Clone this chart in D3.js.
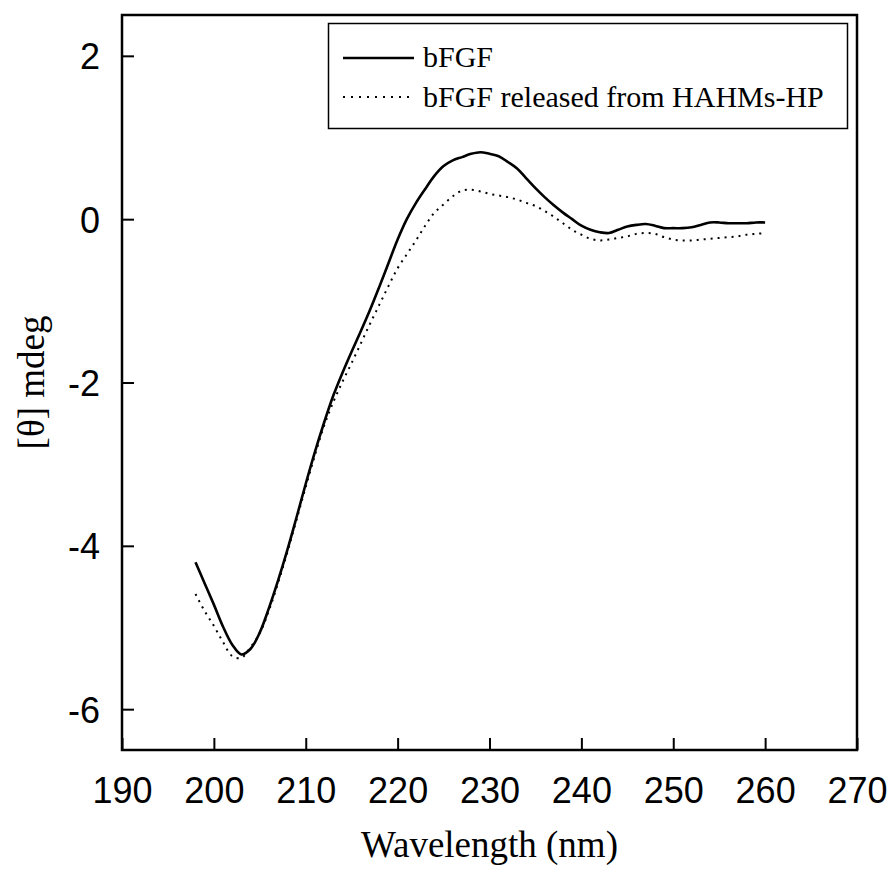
<!DOCTYPE html>
<html><head><meta charset="utf-8">
<script src="https://cdn.jsdelivr.net/npm/d3@7"></script>
<style>body{margin:0;background:#fff}</style>
</head><body><svg id="c" width="895" height="877"></svg>
<script>
const wavelength = [198,199,200,201,202,203,204,205,206,207,208,209,210,211,212,213,214,215,216,217,218,219,220,221,222,223,224,225,226,227,228,229,230,231,232,233,234,235,236,237,238,239,240,241,242,243,244,245,246,247,248,249,250,251,252,253,254,255,256,257,258,259,260];
const bFGF = [-4.20,-4.46,-4.72,-4.99,-5.21,-5.33,-5.26,-5.06,-4.76,-4.42,-4.05,-3.65,-3.24,-2.85,-2.49,-2.16,-1.88,-1.62,-1.37,-1.11,-0.83,-0.54,-0.25,0.00,0.20,0.37,0.53,0.65,0.72,0.76,0.80,0.82,0.80,0.77,0.70,0.62,0.50,0.38,0.27,0.17,0.08,0.00,-0.08,-0.13,-0.16,-0.17,-0.13,-0.09,-0.07,-0.06,-0.08,-0.11,-0.11,-0.11,-0.10,-0.07,-0.04,-0.04,-0.05,-0.05,-0.05,-0.04,-0.04];
const released = [-4.59,-4.80,-4.98,-5.18,-5.35,-5.37,-5.24,-5.07,-4.79,-4.45,-4.08,-3.68,-3.28,-2.89,-2.53,-2.24,-1.99,-1.76,-1.52,-1.28,-1.05,-0.82,-0.60,-0.43,-0.26,-0.08,0.08,0.18,0.28,0.35,0.36,0.34,0.31,0.29,0.27,0.24,0.20,0.16,0.10,0.03,-0.05,-0.13,-0.19,-0.24,-0.26,-0.25,-0.23,-0.21,-0.18,-0.17,-0.18,-0.22,-0.25,-0.26,-0.26,-0.25,-0.24,-0.23,-0.22,-0.21,-0.19,-0.18,-0.17];
const xTicks = [190,200,210,220,230,240,250,260,270];
const yTicks = [2,0,-2,-4,-6];
const seriesNames = ["bFGF","bFGF released from HAHMs-HP"];

const L=122, R=857, T=15, B=750;
const svg = d3.select("#c");
const x = d3.scaleLinear().domain([190,270]).range([L,R]);
const y = d3.scaleLinear().domain([-6.5,2.5]).range([B,T]);

const xa = svg.append("g").attr("transform",`translate(0,${B})`)
  .call(d3.axisBottom(x).tickValues(xTicks).tickSizeInner(-12).tickSizeOuter(0).tickFormat(d=>String(d)));
xa.select(".domain").remove();
xa.selectAll(".tick line").attr("stroke","#000").attr("stroke-width",2);
xa.selectAll(".tick text").attr("y",53).attr("dy",0).attr("fill","#000")
  .style("font-family","'Liberation Sans', Arial, sans-serif").style("font-size","36px");

const ya = svg.append("g").attr("transform",`translate(${L},0)`)
  .call(d3.axisLeft(y).tickValues(yTicks).tickSizeInner(-12).tickSizeOuter(0).tickFormat(d=>String(d)));
ya.select(".domain").remove();
ya.selectAll(".tick line").attr("stroke","#000").attr("stroke-width",2);
ya.selectAll(".tick text").attr("x",-22).attr("dy","0.36em").attr("fill","#000")
  .style("font-family","'Liberation Sans', Arial, sans-serif").style("font-size","36px");

svg.append("rect").attr("x",L).attr("y",T).attr("width",R-L).attr("height",B-T)
  .attr("fill","none").attr("stroke","#000").attr("stroke-width",2.5);

const line = (vals)=>d3.line().curve(d3.curveCatmullRom.alpha(0.5))
  .x((d,i)=>x(wavelength[i])).y(d=>y(d))(vals);

svg.append("path").attr("d",line(bFGF)).attr("fill","none").attr("stroke","#000").attr("stroke-width",2.6);
svg.append("path").attr("d",line(released)).attr("fill","none").attr("stroke","#000")
  .attr("stroke-width",2).attr("stroke-dasharray","2,5").attr("stroke-linecap","butt");

// legend
const lg = svg.append("g");
lg.append("rect").attr("x",328.5).attr("y",23.5).attr("width",519).attr("height",105)
  .attr("fill","#fff").attr("stroke","#000").attr("stroke-width",1.5);
lg.append("line").attr("x1",343).attr("x2",414).attr("y1",58).attr("y2",58).attr("stroke","#000").attr("stroke-width",2.6);
lg.append("line").attr("x1",343).attr("x2",414).attr("y1",97).attr("y2",97).attr("stroke","#000")
  .attr("stroke-width",2).attr("stroke-dasharray","2,6");
lg.selectAll("text").data(seriesNames).join("text")
  .attr("x",423).attr("y",(d,i)=>66.5+i*40).text(d=>d)
  .style("font-family","'Liberation Serif','Times New Roman',serif").style("font-size","30px").attr("fill","#000");

svg.append("text").attr("x",(L+R)/2).attr("y",857).attr("text-anchor","middle")
  .style("font-family","'Liberation Serif','Times New Roman',serif").style("font-size","37px").text("Wavelength (nm)");
svg.append("text").attr("transform",`translate(44,${(T+B)/2}) rotate(-90)`).attr("text-anchor","middle")
  .style("font-family","'Liberation Serif','Times New Roman',serif").style("font-size","37px").text("[θ] mdeg");
</script></body></html>
